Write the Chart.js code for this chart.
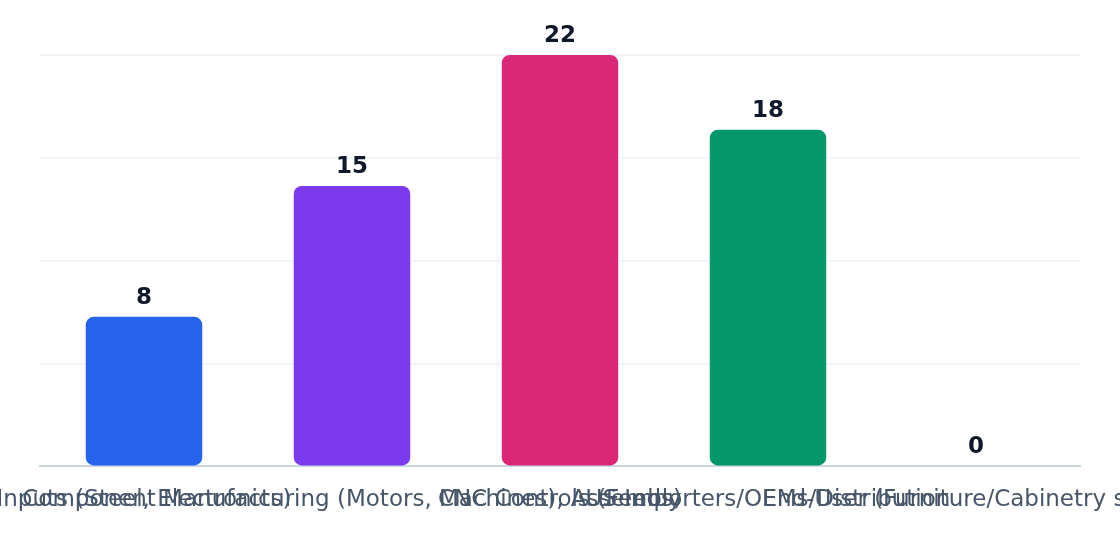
<!DOCTYPE html>
<html>
<head>
<meta charset="utf-8">
<script src="https://cdn.jsdelivr.net/npm/chart.js@4/dist/chart.umd.min.js"></script>
<style>
  html, body { margin: 0; padding: 0; background: #fff; }
  #wrap { width: 1120px; height: 560px; }
</style>
</head>
<body>
<div id="wrap"><canvas id="barChart"></canvas></div>
<script>
// chart data
const stages = [
  "Inputs (Steel, Electronics)",
  "Component Manufacturing (Motors, Machines), Assembly",
  "CNC Controls (Feeds)",
  "US Importers/OEMs/Distribution",
  "End-User (Furniture/Cabinetry shops)"
];
const counts = [8, 15, 22, 18, 0];
const barColors = ["#2563eb", "#7c3aed", "#db2777", "#059669", "#d97706"];

// draws the number above each bar
const valueLabels = {
  id: "valueLabels",
  afterDatasetsDraw(chart) {
    const ctx = chart.ctx;
    const meta = chart.getDatasetMeta(0);
    ctx.save();
    ctx.font = "bold 23px 'DejaVu Sans'";
    ctx.fillStyle = "#0f172a";
    ctx.textAlign = "center";
    ctx.textBaseline = "alphabetic";
    meta.data.forEach((bar, i) => {
      ctx.fillText(String(counts[i]), bar.x, bar.y - 13);
    });
    ctx.restore();
  }
};

new Chart(document.getElementById("barChart"), {
  type: "bar",
  data: {
    labels: stages,
    datasets: [{
      data: counts,
      backgroundColor: barColors,
      borderRadius: 8,
      borderSkipped: false,
      barPercentage: 0.8,
      categoryPercentage: 0.7
    }]
  },
  options: {
    responsive: true,
    maintainAspectRatio: false,
    animation: false,
    layout: { padding: { top: 55, bottom: 34, left: 40, right: 40 } },
    plugins: { legend: { display: false }, tooltip: { enabled: false } },
    scales: {
      x: {
        grid: { display: false },
        border: { color: "#cbd5e1", width: 2 },
        ticks: {
          autoSkip: false,
          maxRotation: 0,
          minRotation: 0,
          padding: 12,
          color: "#475569",
          font: { family: "'DejaVu Sans'", size: 23 }
        },
        // labels are allowed to run past the edges
        afterFit: (s) => { s.paddingLeft = 0; s.paddingRight = 0; }
      },
      y: {
        min: 0,
        max: Math.max(...counts),
        grid: { color: "#f1f5f9", lineWidth: 2, drawTicks: false },
        border: { display: false },
        ticks: { display: false, count: 5 },
        afterFit: (s) => { s.width = 0; }
      }
    }
  },
  plugins: [valueLabels]
});
</script>
</body>
</html>
